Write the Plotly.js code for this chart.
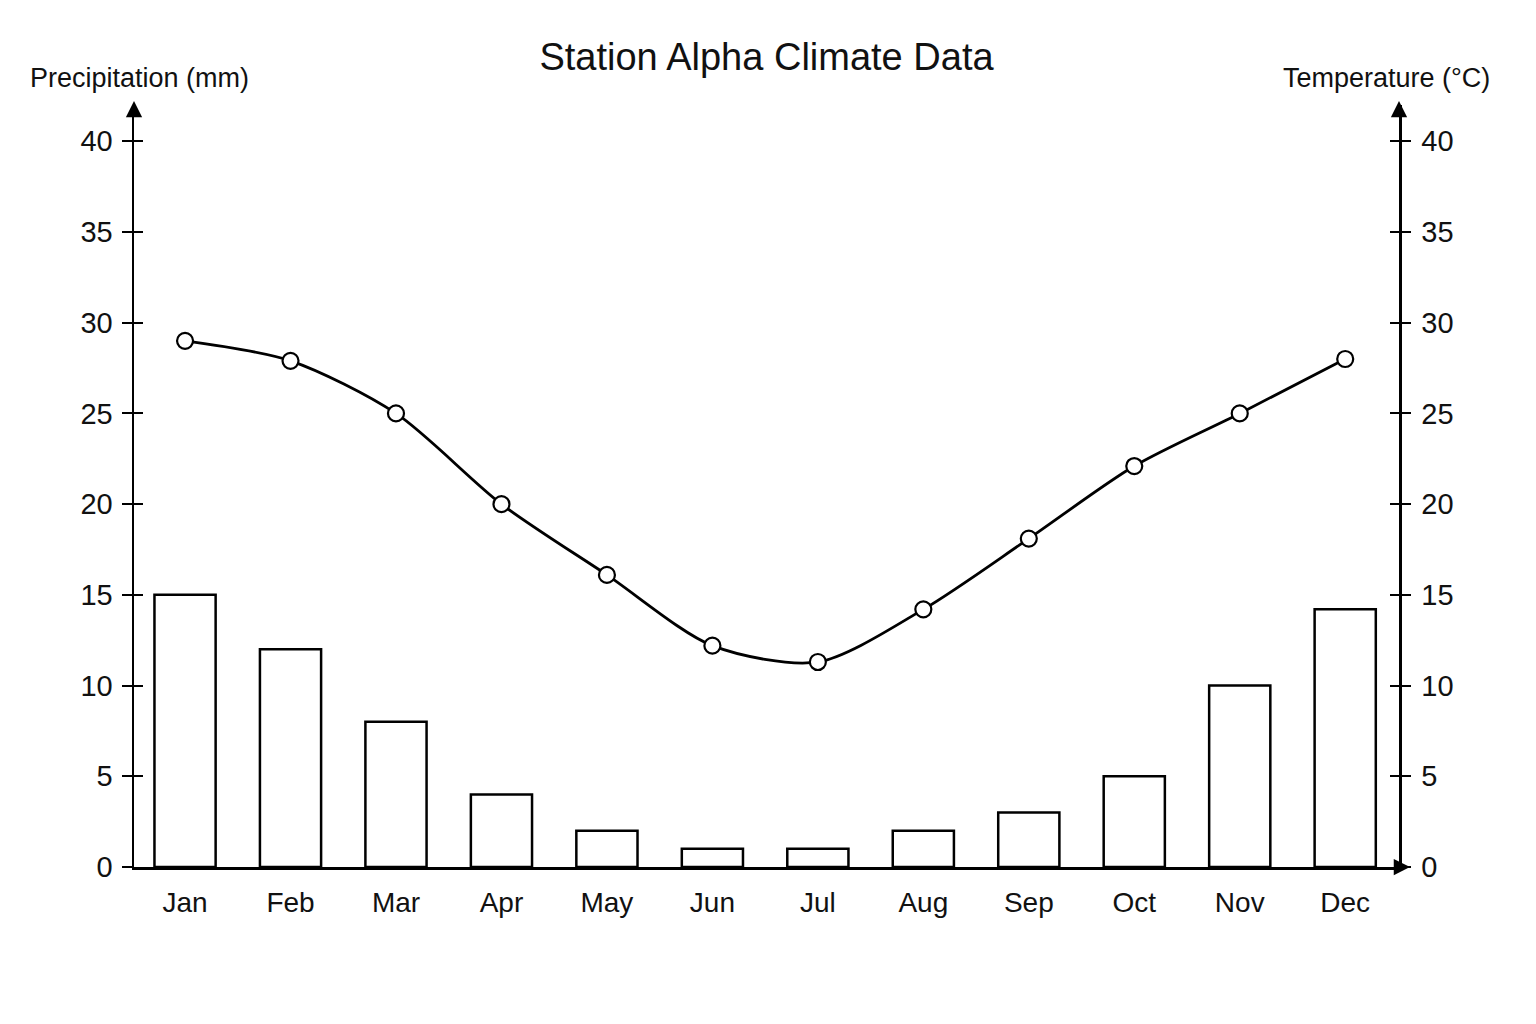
<!DOCTYPE html>
<html>
<head>
<meta charset="utf-8">
<script src="https://cdn.plot.ly/plotly-3.0.1.min.js"></script>
<style>html,body{margin:0;padding:0;background:#fff;}#chart{width:1536px;height:1024px;}</style>
</head>
<body>
<div id="chart"></div>
<script>
const months = ["Jan","Feb","Mar","Apr","May","Jun","Jul","Aug","Sep","Oct","Nov","Dec"];
const precipitation = [15, 12, 8, 4, 2, 1, 1, 2, 3, 5, 10, 14.2];
const temperature = [29, 27.9, 25, 20, 16.1, 12.2, 11.3, 14.2, 18.1, 22.1, 25, 28];
const yTicks = [0, 5, 10, 15, 20, 25, 30, 35, 40];
const chartTitle = "Station Alpha Climate Data";
const leftTitle = "Precipitation (mm)";
const rightTitle = "Temperature (°C)";

const FONT = "Liberation Sans, Arial, sans-serif";
const yRange = [0, 42];

const traces = [
  {
    type: "bar", x: months, y: precipitation, xaxis: "x", yaxis: "y",
    width: 0.58,
    marker: {color: "#ffffff", line: {color: "#000000", width: 2.5}},
    hoverinfo: "skip", showlegend: false
  },
  {
    type: "scatter", mode: "lines+markers", x: months, y: temperature, xaxis: "x", yaxis: "y2",
    line: {color: "#000000", width: 2.8, shape: "spline", smoothing: 0.8},
    marker: {symbol: "circle", size: 16, color: "#ffffff", line: {color: "#000000", width: 2.2}},
    hoverinfo: "skip", showlegend: false
  },
  {
    type: "scatter", mode: "markers", x: months, y: precipitation, xaxis: "x", yaxis: "y3",
    marker: {opacity: 0}, hoverinfo: "skip", showlegend: false
  },
  {
    type: "scatter", mode: "markers", x: months, y: temperature, xaxis: "x", yaxis: "y4",
    marker: {opacity: 0}, hoverinfo: "skip", showlegend: false
  }
];

const yTickFont = {family: FONT, size: 29, color: "#111"};
const xTickFont = {family: FONT, size: 28, color: "#111"};

const layout = {
  width: 1536, height: 1024,
  paper_bgcolor: "#ffffff", plot_bgcolor: "#ffffff",
  margin: {l: 134, r: 137, t: 105, b: 157, pad: 0},
  showlegend: false,
  title: {
    text: chartTitle, font: {family: FONT, size: 38, color: "#111"},
    x: 0.5, xref: "paper", y: 1 - 57/1024, yref: "container", yanchor: "middle", xanchor: "center"
  },
  xaxis: {
    type: "category", range: [-0.484, 11.51],
    showline: true, linecolor: "#000", linewidth: 2.5,
    showgrid: false, zeroline: false, ticks: "",
    tickfont: xTickFont, ticklabelstandoff: 9, fixedrange: true
  },
  yaxis: {
    range: yRange, side: "left",
    tickvals: yTicks, ticktext: yTicks.map(String),
    showline: true, linecolor: "#000", linewidth: 2.5,
    ticks: "outside", ticklen: 10, tickwidth: 2, tickcolor: "#000",
    showgrid: false, zeroline: false,
    tickfont: yTickFont, ticklabelstandoff: 3
  },
  yaxis2: {
    range: yRange, side: "right", overlaying: "y",
    tickvals: yTicks, ticktext: yTicks.map(String),
    showline: true, linecolor: "#000", linewidth: 2.5,
    ticks: "outside", ticklen: 9, tickwidth: 2, tickcolor: "#000",
    showgrid: false, zeroline: false,
    tickfont: yTickFont, ticklabelstandoff: 5
  },
  yaxis3: {
    range: yRange, side: "left", overlaying: "y",
    tickvals: yTicks.slice(1), showticklabels: false, showline: false,
    ticks: "inside", ticklen: 9, tickwidth: 2, tickcolor: "#000",
    showgrid: false, zeroline: false
  },
  yaxis4: {
    range: yRange, side: "right", overlaying: "y",
    tickvals: yTicks.slice(1), showticklabels: false, showline: false,
    ticks: "inside", ticklen: 9, tickwidth: 2, tickcolor: "#000",
    showgrid: false, zeroline: false
  },
  annotations: [
    {text: leftTitle, xref: "paper", yref: "paper", x: (28-134)/1265, y: (867-78)/762,
     xanchor: "left", yanchor: "middle", showarrow: false, font: {family: FONT, size: 27, color: "#111"}},
    {text: rightTitle, xref: "paper", yref: "paper", x: (1492-134)/1265, y: (867-78)/762,
     xanchor: "right", yanchor: "middle", showarrow: false, font: {family: FONT, size: 27, color: "#111"}},
    {text: "", xref: "paper", yref: "paper", x: 0, y: (867-101)/762, ax: 0, ay: 14,
     showarrow: true, arrowhead: 2, arrowsize: 1.3, arrowwidth: 2.5, arrowcolor: "#000"},
    {text: "", xref: "paper", yref: "paper", x: 1, y: (867-101)/762, ax: 0, ay: 14,
     showarrow: true, arrowhead: 2, arrowsize: 1.3, arrowwidth: 2.5, arrowcolor: "#000"},
    {text: "", xref: "paper", yref: "paper", x: (1410-134)/1265, y: 0, ax: -14, ay: 0,
     showarrow: true, arrowhead: 2, arrowsize: 1.3, arrowwidth: 2.5, arrowcolor: "#000"}
  ]
};

Plotly.newPlot("chart", traces, layout, {staticPlot: true, displayModeBar: false});
</script>
</body>
</html>
